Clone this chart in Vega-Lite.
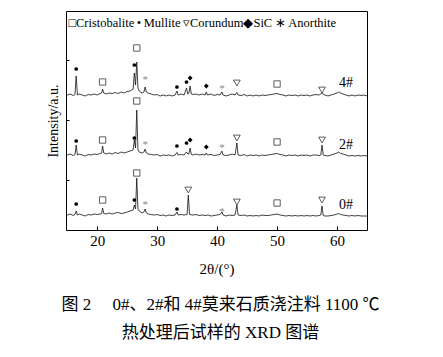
{
  "$schema": "https://vega.github.io/schema/vega-lite/v6.json",
  "width": 301,
  "height": 219,
  "autosize": "none",
  "padding": {"left": 66, "top": 11, "right": 76, "bottom": 127},
  "background": "white",
  "config": {
    "view": {"stroke": "#000", "strokeWidth": 1},
    "font": "Liberation Serif"
  },
  "title": {
    "text": ["图 2\u2003 0#、2#和 4#莫来石质浇注料 1100 ℃", "热处理后试样的 XRD 图谱"],
    "orient": "bottom",
    "anchor": "middle",
    "font": "Liberation Serif, 'Noto Sans CJK SC'",
    "fontSize": 17,
    "fontWeight": "normal",
    "color": "#000",
    "lineHeight": 28,
    "offset": 21,
    "dx": 4
  },
  "datasets": {
    "pattern": [
      {"s":"4#","x":15,"y":135},{"s":"4#","x":15.5,"y":136},{"s":"4#","x":16,"y":134.5},{"s":"4#","x":16.3,"y":135.5},{"s":"4#","x":16.5,"y":154},{"s":"4#","x":16.7,"y":135},{"s":"4#","x":17,"y":136},{"s":"4#","x":17.5,"y":135},{"s":"4#","x":18,"y":134},{"s":"4#","x":18.5,"y":135.5},{"s":"4#","x":19,"y":135},{"s":"4#","x":19.5,"y":136},{"s":"4#","x":20,"y":135},{"s":"4#","x":20.5,"y":136.5},{"s":"4#","x":20.75,"y":137},{"s":"4#","x":20.9,"y":141},{"s":"4#","x":21.1,"y":137},{"s":"4#","x":21.5,"y":136},{"s":"4#","x":22,"y":137},{"s":"4#","x":22.5,"y":136.5},{"s":"4#","x":23,"y":137.5},{"s":"4#","x":23.5,"y":136.5},{"s":"4#","x":24,"y":138},{"s":"4#","x":24.5,"y":137},{"s":"4#","x":25,"y":138.5},{"s":"4#","x":25.5,"y":139},{"s":"4#","x":26,"y":141},{"s":"4#","x":26.2,"y":157},{"s":"4#","x":26.4,"y":145},{"s":"4#","x":26.6,"y":168},{"s":"4#","x":26.8,"y":142},{"s":"4#","x":27,"y":139},{"s":"4#","x":27.5,"y":137},{"s":"4#","x":27.8,"y":138},{"s":"4#","x":28,"y":143},{"s":"4#","x":28.2,"y":138},{"s":"4#","x":28.5,"y":137},{"s":"4#","x":29,"y":136},{"s":"4#","x":29.5,"y":135},{"s":"4#","x":30,"y":135.5},{"s":"4#","x":30.5,"y":134},{"s":"4#","x":31,"y":135},{"s":"4#","x":31.5,"y":134},{"s":"4#","x":32,"y":135},{"s":"4#","x":32.5,"y":134},{"s":"4#","x":33,"y":135},{"s":"4#","x":33.3,"y":139},{"s":"4#","x":33.5,"y":135},{"s":"4#","x":34,"y":136},{"s":"4#","x":34.5,"y":135},{"s":"4#","x":34.9,"y":142},{"s":"4#","x":35.1,"y":136},{"s":"4#","x":35.3,"y":137},{"s":"4#","x":35.5,"y":144},{"s":"4#","x":35.7,"y":136},{"s":"4#","x":36,"y":135.5},{"s":"4#","x":36.5,"y":136},{"s":"4#","x":37,"y":135},{"s":"4#","x":37.5,"y":136},{"s":"4#","x":38,"y":135},{"s":"4#","x":38.2,"y":138},{"s":"4#","x":38.4,"y":135},{"s":"4#","x":39,"y":136},{"s":"4#","x":39.5,"y":134.5},{"s":"4#","x":40,"y":135.5},{"s":"4#","x":40.5,"y":135},{"s":"4#","x":40.8,"y":138},{"s":"4#","x":41,"y":135},{"s":"4#","x":41.5,"y":134},{"s":"4#","x":42,"y":135},{"s":"4#","x":42.5,"y":136},{"s":"4#","x":43,"y":135},{"s":"4#","x":43.3,"y":137.5},{"s":"4#","x":43.5,"y":135},{"s":"4#","x":44,"y":134.5},{"s":"4#","x":44.5,"y":135.5},{"s":"4#","x":45,"y":134},{"s":"4#","x":45.5,"y":135},{"s":"4#","x":46,"y":134},{"s":"4#","x":46.5,"y":135},{"s":"4#","x":47,"y":134},{"s":"4#","x":47.5,"y":135},{"s":"4#","x":48,"y":134.5},{"s":"4#","x":48.5,"y":135},{"s":"4#","x":49,"y":135.5},{"s":"4#","x":49.5,"y":136},{"s":"4#","x":50,"y":136.5},{"s":"4#","x":50.5,"y":135.5},{"s":"4#","x":51,"y":135},{"s":"4#","x":51.5,"y":134},{"s":"4#","x":52,"y":135},{"s":"4#","x":52.5,"y":134.5},{"s":"4#","x":53,"y":135},{"s":"4#","x":53.5,"y":134},{"s":"4#","x":54,"y":135},{"s":"4#","x":54.5,"y":134.5},{"s":"4#","x":55,"y":135},{"s":"4#","x":55.5,"y":134},{"s":"4#","x":56,"y":135},{"s":"4#","x":56.5,"y":135.5},{"s":"4#","x":57,"y":135},{"s":"4#","x":57.3,"y":136},{"s":"4#","x":57.5,"y":137.5},{"s":"4#","x":57.7,"y":135.5},{"s":"4#","x":58,"y":135},{"s":"4#","x":58.5,"y":134},{"s":"4#","x":59,"y":135},{"s":"4#","x":59.5,"y":136},{"s":"4#","x":60,"y":137},{"s":"4#","x":60.3,"y":138},{"s":"4#","x":60.6,"y":137},{"s":"4#","x":61,"y":136},{"s":"4#","x":61.5,"y":135},{"s":"4#","x":62,"y":134},{"s":"4#","x":62.5,"y":135},{"s":"4#","x":63,"y":134},{"s":"4#","x":63.5,"y":135},{"s":"4#","x":64,"y":134.5},{"s":"4#","x":64.5,"y":135},{"s":"4#","x":65,"y":134},
      {"s":"2#","x":15,"y":75},{"s":"2#","x":15.5,"y":76},{"s":"2#","x":16,"y":74.5},{"s":"2#","x":16.3,"y":75.5},{"s":"2#","x":16.5,"y":85},{"s":"2#","x":16.7,"y":75},{"s":"2#","x":17,"y":76},{"s":"2#","x":17.5,"y":75},{"s":"2#","x":18,"y":74},{"s":"2#","x":18.5,"y":75.5},{"s":"2#","x":19,"y":75},{"s":"2#","x":19.5,"y":76},{"s":"2#","x":20,"y":75.5},{"s":"2#","x":20.5,"y":76.5},{"s":"2#","x":20.75,"y":77},{"s":"2#","x":20.9,"y":84},{"s":"2#","x":21.1,"y":77},{"s":"2#","x":21.5,"y":76},{"s":"2#","x":22,"y":77},{"s":"2#","x":22.5,"y":76},{"s":"2#","x":23,"y":77.5},{"s":"2#","x":23.5,"y":76.5},{"s":"2#","x":24,"y":78},{"s":"2#","x":24.5,"y":77},{"s":"2#","x":25,"y":78},{"s":"2#","x":25.5,"y":79},{"s":"2#","x":26,"y":80},{"s":"2#","x":26.2,"y":90},{"s":"2#","x":26.4,"y":82},{"s":"2#","x":26.6,"y":120},{"s":"2#","x":26.8,"y":80},{"s":"2#","x":27,"y":78},{"s":"2#","x":27.5,"y":77},{"s":"2#","x":27.8,"y":78},{"s":"2#","x":28,"y":81},{"s":"2#","x":28.2,"y":77},{"s":"2#","x":28.5,"y":76},{"s":"2#","x":29,"y":75.5},{"s":"2#","x":29.5,"y":75},{"s":"2#","x":30,"y":75.5},{"s":"2#","x":30.5,"y":74},{"s":"2#","x":31,"y":75},{"s":"2#","x":31.5,"y":74.5},{"s":"2#","x":32,"y":75},{"s":"2#","x":32.5,"y":74},{"s":"2#","x":33,"y":75},{"s":"2#","x":33.3,"y":77.5},{"s":"2#","x":33.5,"y":75},{"s":"2#","x":34,"y":75.5},{"s":"2#","x":34.5,"y":75},{"s":"2#","x":34.9,"y":78},{"s":"2#","x":35.1,"y":76},{"s":"2#","x":35.3,"y":76},{"s":"2#","x":35.5,"y":82},{"s":"2#","x":35.7,"y":75.5},{"s":"2#","x":36,"y":75},{"s":"2#","x":36.5,"y":76},{"s":"2#","x":37,"y":75},{"s":"2#","x":37.5,"y":75.5},{"s":"2#","x":38,"y":75},{"s":"2#","x":38.2,"y":77},{"s":"2#","x":38.4,"y":75},{"s":"2#","x":39,"y":75.5},{"s":"2#","x":39.5,"y":74.5},{"s":"2#","x":40,"y":75},{"s":"2#","x":40.5,"y":75.5},{"s":"2#","x":40.8,"y":79},{"s":"2#","x":41,"y":75},{"s":"2#","x":41.5,"y":74.5},{"s":"2#","x":42,"y":75},{"s":"2#","x":42.5,"y":76},{"s":"2#","x":43,"y":75},{"s":"2#","x":43.3,"y":87},{"s":"2#","x":43.5,"y":75},{"s":"2#","x":44,"y":74.5},{"s":"2#","x":44.5,"y":75.5},{"s":"2#","x":45,"y":74},{"s":"2#","x":45.5,"y":75},{"s":"2#","x":46,"y":74.5},{"s":"2#","x":46.5,"y":75},{"s":"2#","x":47,"y":74},{"s":"2#","x":47.5,"y":75},{"s":"2#","x":48,"y":74.5},{"s":"2#","x":48.5,"y":75},{"s":"2#","x":49,"y":75.5},{"s":"2#","x":49.5,"y":76},{"s":"2#","x":50,"y":76.5},{"s":"2#","x":50.5,"y":75.5},{"s":"2#","x":51,"y":75},{"s":"2#","x":51.5,"y":74},{"s":"2#","x":52,"y":75},{"s":"2#","x":52.5,"y":74.5},{"s":"2#","x":53,"y":75},{"s":"2#","x":53.5,"y":74},{"s":"2#","x":54,"y":75},{"s":"2#","x":54.5,"y":74.5},{"s":"2#","x":55,"y":75},{"s":"2#","x":55.5,"y":74},{"s":"2#","x":56,"y":75},{"s":"2#","x":56.5,"y":75},{"s":"2#","x":57,"y":74.5},{"s":"2#","x":57.3,"y":75},{"s":"2#","x":57.5,"y":85},{"s":"2#","x":57.7,"y":75},{"s":"2#","x":58,"y":74.5},{"s":"2#","x":58.5,"y":74},{"s":"2#","x":59,"y":75},{"s":"2#","x":59.5,"y":76},{"s":"2#","x":60,"y":77},{"s":"2#","x":60.3,"y":78},{"s":"2#","x":60.6,"y":76.5},{"s":"2#","x":61,"y":76},{"s":"2#","x":61.5,"y":75},{"s":"2#","x":62,"y":74},{"s":"2#","x":62.5,"y":74.5},{"s":"2#","x":63,"y":74},{"s":"2#","x":63.5,"y":74.5},{"s":"2#","x":64,"y":74},{"s":"2#","x":64.5,"y":74.5},{"s":"2#","x":65,"y":74},
      {"s":"0#","x":15,"y":15},{"s":"0#","x":15.5,"y":16},{"s":"0#","x":16,"y":14.5},{"s":"0#","x":16.3,"y":15.5},{"s":"0#","x":16.5,"y":19},{"s":"0#","x":16.7,"y":15},{"s":"0#","x":17,"y":16},{"s":"0#","x":17.5,"y":15},{"s":"0#","x":18,"y":14},{"s":"0#","x":18.5,"y":15.5},{"s":"0#","x":19,"y":15},{"s":"0#","x":19.5,"y":16},{"s":"0#","x":20,"y":15.5},{"s":"0#","x":20.5,"y":16},{"s":"0#","x":20.75,"y":16.5},{"s":"0#","x":20.9,"y":22},{"s":"0#","x":21.1,"y":16.5},{"s":"0#","x":21.5,"y":16},{"s":"0#","x":22,"y":17},{"s":"0#","x":22.5,"y":16},{"s":"0#","x":23,"y":17},{"s":"0#","x":23.5,"y":17.5},{"s":"0#","x":24,"y":16.5},{"s":"0#","x":24.5,"y":17},{"s":"0#","x":25,"y":18},{"s":"0#","x":25.5,"y":19},{"s":"0#","x":26,"y":20},{"s":"0#","x":26.2,"y":25},{"s":"0#","x":26.4,"y":21},{"s":"0#","x":26.6,"y":52},{"s":"0#","x":26.8,"y":21},{"s":"0#","x":27,"y":19},{"s":"0#","x":27.5,"y":17},{"s":"0#","x":27.8,"y":18},{"s":"0#","x":28,"y":21},{"s":"0#","x":28.2,"y":17},{"s":"0#","x":28.5,"y":16},{"s":"0#","x":29,"y":15.5},{"s":"0#","x":29.5,"y":15},{"s":"0#","x":30,"y":15.5},{"s":"0#","x":30.5,"y":14.5},{"s":"0#","x":31,"y":15},{"s":"0#","x":31.5,"y":14},{"s":"0#","x":32,"y":15},{"s":"0#","x":32.5,"y":14.5},{"s":"0#","x":33,"y":15},{"s":"0#","x":33.3,"y":18},{"s":"0#","x":33.5,"y":15},{"s":"0#","x":34,"y":15.5},{"s":"0#","x":34.5,"y":15},{"s":"0#","x":35,"y":15.5},{"s":"0#","x":35.2,"y":35},{"s":"0#","x":35.4,"y":15.5},{"s":"0#","x":36,"y":15},{"s":"0#","x":36.5,"y":15.5},{"s":"0#","x":37,"y":14.5},{"s":"0#","x":37.5,"y":15},{"s":"0#","x":38,"y":14.5},{"s":"0#","x":38.5,"y":15},{"s":"0#","x":39,"y":14},{"s":"0#","x":39.5,"y":14.5},{"s":"0#","x":40,"y":15},{"s":"0#","x":40.5,"y":15.5},{"s":"0#","x":40.8,"y":18},{"s":"0#","x":41,"y":15},{"s":"0#","x":41.5,"y":14},{"s":"0#","x":42,"y":15},{"s":"0#","x":42.5,"y":14.5},{"s":"0#","x":43,"y":15},{"s":"0#","x":43.3,"y":25},{"s":"0#","x":43.5,"y":15},{"s":"0#","x":44,"y":14.5},{"s":"0#","x":44.5,"y":15},{"s":"0#","x":45,"y":14},{"s":"0#","x":45.5,"y":14.5},{"s":"0#","x":46,"y":14},{"s":"0#","x":46.5,"y":14.5},{"s":"0#","x":47,"y":14},{"s":"0#","x":47.5,"y":15},{"s":"0#","x":48,"y":14.5},{"s":"0#","x":48.5,"y":14.5},{"s":"0#","x":49,"y":15},{"s":"0#","x":49.5,"y":15.5},{"s":"0#","x":50,"y":16},{"s":"0#","x":50.5,"y":15},{"s":"0#","x":51,"y":14.5},{"s":"0#","x":51.5,"y":14},{"s":"0#","x":52,"y":14.5},{"s":"0#","x":52.5,"y":14},{"s":"0#","x":53,"y":14.5},{"s":"0#","x":53.5,"y":14},{"s":"0#","x":54,"y":14.5},{"s":"0#","x":54.5,"y":14},{"s":"0#","x":55,"y":14.5},{"s":"0#","x":55.5,"y":14},{"s":"0#","x":56,"y":14.5},{"s":"0#","x":56.5,"y":14},{"s":"0#","x":57,"y":14.5},{"s":"0#","x":57.3,"y":15},{"s":"0#","x":57.5,"y":24},{"s":"0#","x":57.7,"y":14.5},{"s":"0#","x":58,"y":14},{"s":"0#","x":58.5,"y":14},{"s":"0#","x":59,"y":14.5},{"s":"0#","x":59.5,"y":15},{"s":"0#","x":60,"y":16},{"s":"0#","x":60.3,"y":16.5},{"s":"0#","x":60.6,"y":15.5},{"s":"0#","x":61,"y":15},{"s":"0#","x":61.5,"y":14.5},{"s":"0#","x":62,"y":14},{"s":"0#","x":62.5,"y":14.5},{"s":"0#","x":63,"y":14},{"s":"0#","x":63.5,"y":14.5},{"s":"0#","x":64,"y":14},{"s":"0#","x":64.5,"y":14},{"s":"0#","x":65,"y":14}
    ],
    "marks": [
      {"x":16.5,"y":161,"p":"Mullite"},{"x":20.9,"y":148,"p":"Cristobalite"},{"x":26.2,"y":165,"p":"Mullite"},{"x":26.6,"y":182,"p":"Cristobalite"},{"x":28.0,"y":152,"p":"Anorthite"},{"x":33.3,"y":143,"p":"Mullite"},{"x":34.9,"y":148,"p":"Mullite"},{"x":35.5,"y":152,"p":"SiC"},{"x":38.2,"y":144,"p":"SiC"},{"x":40.8,"y":143,"p":"Anorthite"},{"x":43.3,"y":147,"p":"Corundum"},{"x":50.0,"y":146,"p":"Cristobalite"},{"x":57.5,"y":140,"p":"Corundum"},
      {"x":16.5,"y":89,"p":"Mullite"},{"x":20.9,"y":90,"p":"Cristobalite"},{"x":26.2,"y":92,"p":"Mullite"},{"x":26.6,"y":129,"p":"Cristobalite"},{"x":28.0,"y":87,"p":"Anorthite"},{"x":33.3,"y":84,"p":"Mullite"},{"x":34.9,"y":87,"p":"Mullite"},{"x":35.5,"y":90,"p":"SiC"},{"x":38.2,"y":83,"p":"SiC"},{"x":40.8,"y":84,"p":"Anorthite"},{"x":43.3,"y":92,"p":"Corundum"},{"x":50.0,"y":88,"p":"Cristobalite"},{"x":57.5,"y":90,"p":"Corundum"},
      {"x":16.5,"y":26,"p":"Mullite"},{"x":20.9,"y":30,"p":"Cristobalite"},{"x":26.2,"y":30,"p":"Mullite"},{"x":26.6,"y":57,"p":"Cristobalite"},{"x":28.0,"y":27,"p":"Anorthite"},{"x":33.3,"y":21,"p":"Mullite"},{"x":35.2,"y":40,"p":"Corundum"},{"x":40.8,"y":20,"p":"Anorthite"},{"x":43.3,"y":28,"p":"Corundum"},{"x":50.0,"y":27,"p":"Cristobalite"},{"x":57.5,"y":30,"p":"Corundum"}
    ],
    "labels": [
      {"x":61.5,"y":147,"t":"4#"},{"x":61.5,"y":85,"t":"2#"},{"x":61.5,"y":25,"t":"0#"}
    ],
    "legend": [
      {"x":15.2,"y":207,"t":"□Cristobalite\u2009•\u2009Mullite\u2009▿Corundum◆SiC\u2009∗\u2009Anorthite"}
    ]
  },
  "layer": [
    {
      "data": {"name": "pattern"},
      "mark": {"type": "line", "color": "#111", "strokeWidth": 0.8, "interpolate": "linear"},
      "encoding": {
        "x": {"field": "x", "type": "quantitative", "scale": {"domain": [14.8, 65], "nice": false, "zero": false},
          "axis": {"values": [20, 30, 40, 50, 60], "title": "2θ/(°)", "domain": false, "grid": false, "tickSize": -4, "tickColor": "#000",
            "labelFont": "Liberation Serif", "labelFontSize": 15, "labelColor": "#000", "labelPadding": 7,
            "titleFont": "Liberation Serif", "titleFontSize": 15, "titleFontWeight": "normal", "titleColor": "#000", "titlePadding": 13}},
        "y": {"field": "y", "type": "quantitative", "scale": {"domain": [0, 219], "nice": false},
          "axis": {"values": [50, 110, 170], "labels": false, "title": "Intensity/a.u.", "domain": false, "grid": false, "tickSize": -3, "tickColor": "#000",
            "titleFont": "Liberation Serif", "titleFontSize": 14, "titleFontWeight": "normal", "titleColor": "#000", "titlePadding": 5}},
        "detail": {"field": "s", "type": "nominal"}
      }
    },
    {
      "data": {"name": "marks"},
      "transform": [{"filter": "datum.p === 'Cristobalite'"}],
      "mark": {"type": "point", "shape": "square", "size": 40, "filled": false, "stroke": "#333", "strokeWidth": 0.8, "opacity": 1},
      "encoding": {
        "x": {"field": "x", "type": "quantitative"},
        "y": {"field": "y", "type": "quantitative"}
      }
    },
    {
      "data": {"name": "marks"},
      "transform": [{"filter": "datum.p === 'Corundum'"}],
      "mark": {"type": "point", "shape": "triangle-down", "size": 45, "filled": false, "stroke": "#333", "strokeWidth": 0.8, "opacity": 1},
      "encoding": {
        "x": {"field": "x", "type": "quantitative"},
        "y": {"field": "y", "type": "quantitative"}
      }
    },
    {
      "data": {"name": "marks"},
      "transform": [{"filter": "datum.p === 'Mullite'"}],
      "mark": {"type": "point", "shape": "circle", "size": 14, "filled": true, "color": "#000", "opacity": 1},
      "encoding": {
        "x": {"field": "x", "type": "quantitative"},
        "y": {"field": "y", "type": "quantitative"}
      }
    },
    {
      "data": {"name": "marks"},
      "transform": [{"filter": "datum.p === 'SiC'"}],
      "mark": {"type": "point", "shape": "diamond", "size": 24, "filled": true, "color": "#000", "opacity": 1},
      "encoding": {
        "x": {"field": "x", "type": "quantitative"},
        "y": {"field": "y", "type": "quantitative"}
      }
    },
    {
      "data": {"name": "marks"},
      "transform": [{"filter": "datum.p === 'Anorthite'"}],
      "mark": {"type": "text", "text": "*", "font": "Liberation Serif", "fontSize": 11, "color": "#888", "align": "center", "baseline": "middle", "dy": 2},
      "encoding": {
        "x": {"field": "x", "type": "quantitative"},
        "y": {"field": "y", "type": "quantitative"}
      }
    },
    {
      "data": {"name": "labels"},
      "mark": {"type": "text", "font": "Liberation Serif", "fontSize": 14, "color": "#000", "align": "center", "baseline": "middle"},
      "encoding": {
        "x": {"field": "x", "type": "quantitative"},
        "y": {"field": "y", "type": "quantitative"},
        "text": {"field": "t"}
      }
    },
    {
      "data": {"name": "legend"},
      "mark": {"type": "text", "font": "Liberation Serif", "fontSize": 12.5, "color": "#000", "align": "left", "baseline": "middle"},
      "encoding": {
        "x": {"field": "x", "type": "quantitative"},
        "y": {"field": "y", "type": "quantitative"},
        "text": {"field": "t"}
      }
    }
  ]
}
